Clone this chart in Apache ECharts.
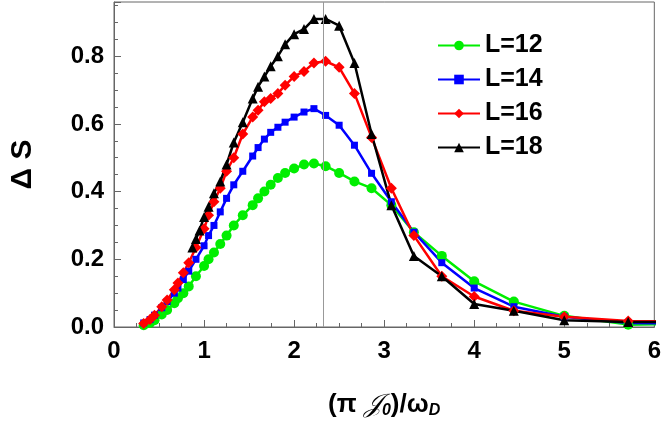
<!DOCTYPE html>
<html>
<head>
<meta charset="utf-8">
<script src="https://cdn.jsdelivr.net/npm/echarts@6/dist/echarts.min.js"></script>
<style>html,body{margin:0;padding:0;background:#fff}#chart{width:664px;height:440px}</style>
</head>
<body>
<div id="chart"></div>
<script>
// x values shared by L=12, 14, 16 (x = 20/n)
const xsCommon = [6.67, 5.71, 5, 4.44, 4, 3.64, 3.33, 3.08, 2.86, 2.67, 2.5, 2.35, 2.22, 2.11, 2.0, 1.9, 1.82, 1.74, 1.67, 1.6, 1.54, 1.43, 1.33, 1.25, 1.18, 1.11, 1.05, 1.0, 0.91, 0.83, 0.77, 0.71, 0.67, 0.59, 0.53, 0.45, 0.4, 0.33];
const yL12 = [0.01, 0.007, 0.033, 0.075, 0.135, 0.21, 0.28, 0.36, 0.41, 0.43, 0.455, 0.475, 0.483, 0.48, 0.468, 0.455, 0.44, 0.42, 0.40, 0.38, 0.36, 0.33, 0.30, 0.27, 0.245, 0.22, 0.2, 0.18, 0.15, 0.12, 0.10, 0.085, 0.07, 0.05, 0.037, 0.02, 0.012, 0.005];
const yL14 = [0.01, 0.012, 0.03, 0.06, 0.115, 0.19, 0.28, 0.37, 0.454, 0.537, 0.596, 0.625, 0.645, 0.635, 0.62, 0.605, 0.59, 0.575, 0.555, 0.53, 0.505, 0.46, 0.42, 0.38, 0.34, 0.30, 0.27, 0.24, 0.20, 0.165, 0.14, 0.115, 0.10, 0.075, 0.057, 0.035, 0.022, 0.012];
const yL16 = [0.015, 0.018, 0.03, 0.048, 0.09, 0.15, 0.27, 0.41, 0.56, 0.69, 0.767, 0.785, 0.78, 0.755, 0.74, 0.714, 0.69, 0.675, 0.665, 0.64, 0.62, 0.57, 0.50, 0.46, 0.41, 0.37, 0.33, 0.29, 0.235, 0.19, 0.16, 0.13, 0.11, 0.08, 0.06, 0.035, 0.022, 0.01];
const xsL18 = [6.67, 5.71, 5, 4.44, 4, 3.64, 3.33, 3.08, 2.86, 2.67, 2.5, 2.35, 2.22, 2.11, 2.0, 1.9, 1.82, 1.74, 1.67, 1.6, 1.54, 1.43, 1.33, 1.25, 1.18, 1.11, 1.05, 1.0, 0.95, 0.91, 0.87];
const yL18 = [0.015, 0.015, 0.02, 0.048, 0.068, 0.15, 0.21, 0.36, 0.57, 0.78, 0.89, 0.91, 0.91, 0.88, 0.865, 0.835, 0.80, 0.77, 0.74, 0.71, 0.675, 0.605, 0.545, 0.48, 0.43, 0.395, 0.355, 0.325, 0.285, 0.26, 0.235];
const peakX = 2.32;

const zip = (xs, ys) => xs.map((x, i) => [x, ys[i]]);
const FONT = 'Liberation Sans, Arial, sans-serif';

function lineSeries(name, xs, ys, color, symbol, size) {
    return {
        name: name,
        type: 'line',
        data: zip(xs, ys),
        symbol: symbol,
        symbolSize: size,
        color: color,
        lineStyle: { color: color, width: 2.5 },
        itemStyle: { color: color },
        clip: true,
        z: 3
    };
}

const axisCommon = {
    axisLine: { lineStyle: { color: '#666', width: 1 } },
    axisTick: { inside: true, length: 7, lineStyle: { color: '#666' } },
    minorTick: { show: true, splitNumber: 4, length: 4, lineStyle: { color: '#666' } },
    splitLine: { show: false },
    axisLabel: { color: '#000', fontSize: 24, fontWeight: 'bold', fontFamily: FONT }
};

const series = [
    lineSeries('L=12', xsCommon, yL12, '#00ee00', 'circle', 10),
    lineSeries('L=14', xsCommon, yL14, '#0000ff', 'rect', 7),
    lineSeries('L=16', xsCommon, yL16, '#ff0000', 'diamond', 11),
    lineSeries('L=18', xsL18, yL18, '#000000', 'triangle', 10)
];
series[0].markLine = {
    silent: true,
    symbol: 'none',
    label: { show: false },
    lineStyle: { color: '#999', width: 1, type: 'solid' },
    data: [{ xAxis: peakX }]
};

const chart = echarts.init(document.getElementById('chart'));
chart.setOption({
    animation: false,
    grid: { left: 112, right: 9, top: 2, bottom: 113, show: true, borderColor: '#666', borderWidth: 1 },
    legend: {
        orient: 'vertical',
        left: 432,
        top: 28,
        itemGap: 9,
        itemWidth: 42,
        itemHeight: 12,
        textStyle: { color: '#000', fontSize: 25, fontWeight: 'bold', fontFamily: FONT },
        data: ['L=12', 'L=14', 'L=16', 'L=18']
    },
    xAxis: Object.assign({
        type: 'value', min: 0, max: 6, interval: 1,
        name: '{n|(π }{j|𝒥}{s|0}{n|)/ω}{s|D}',
        nameLocation: 'middle',
        nameGap: 64,
        nameTextStyle: {
            rich: {
                n: { fontSize: 26, fontWeight: 'bold', fontFamily: FONT, color: '#000' },
                j: { fontSize: 26, fontStyle: 'italic', fontFamily: 'DejaVu Serif, serif', color: '#000' },
                s: { fontSize: 16, fontWeight: 'bold', fontStyle: 'italic', fontFamily: FONT, color: '#000', verticalAlign: 'bottom', padding: [12, 0, 0, 0] }
            }
        }
    }, axisCommon, { axisLabel: Object.assign({}, axisCommon.axisLabel, { margin: 12 }) }),
    yAxis: Object.assign({
        type: 'value', min: 0, max: 0.96, interval: 0.2,
        name: 'Δ S',
        nameLocation: 'middle',
        nameGap: 76,
        nameTextStyle: { color: '#000', fontSize: 30, fontWeight: 'bold', fontFamily: FONT }
    }, axisCommon, {
        axisLabel: Object.assign({}, axisCommon.axisLabel, {
            margin: 10,
            formatter: v => v.toFixed(1),
            showMaxLabel: false
        })
    }),
    series: series
});
</script>
</body>
</html>
